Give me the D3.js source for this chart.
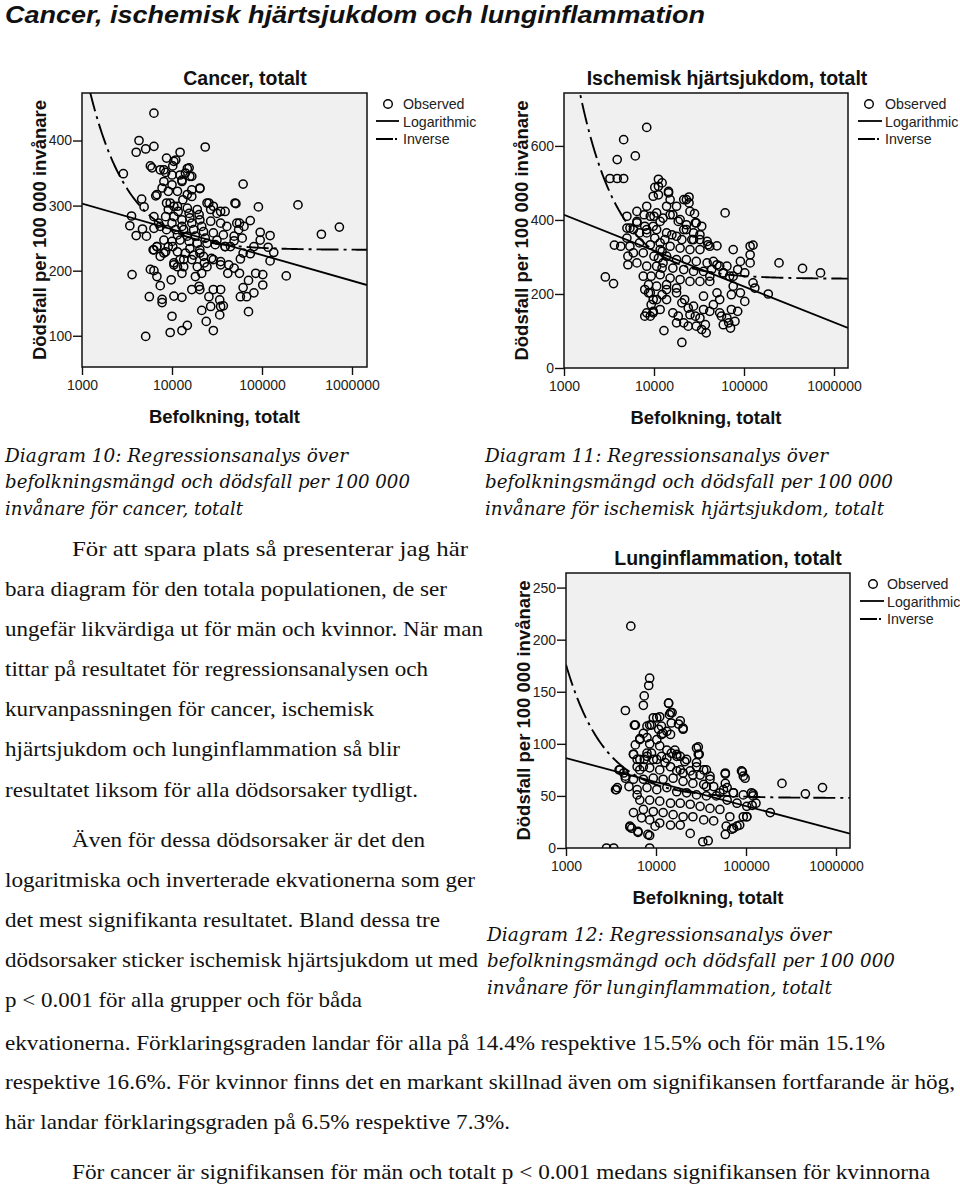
<!DOCTYPE html>
<html><head><meta charset="utf-8">
<script src="https://cdn.jsdelivr.net/npm/d3@7"></script>
<style>body{margin:0;background:#fff}svg{display:block}</style>
</head><body>
<svg id="c" width="960" height="1187"></svg>
<script>
// ---------- DATA ----------
const xTickValues=[1000,10000,100000,1000000];
const legendLabels=["Observed","Logarithmic","Inverse"];
const chartTitles=["Cancer, totalt","Ischemisk hjärtsjukdom, totalt","Lunginflammation, totalt"];
const xAxisTitle="Befolkning, totalt";
const yAxisTitle="Dödsfall per 100 000 invånare";
const cancerYTicks=[100,200,300,400];
const ischYTicks=[0,200,400,600];
const lungYTicks=[0,50,100,150,200,250];
// fits: log: y=a+b*log10(x); inverse: y=a+b/x
const cancerLogFit=[421.5,-39.5], cancerInvFit=[232,298000];
const ischLogFit=[704.7,-96.9], ischInvFit=[241,754500];
const lungLogFit=[155.3,-23.0], lungInvFit=[48,128000];

const cancerPoints=[[6300,442],[4300,400],[4000,382],[5100,387],[6300,391],[23400,390],[12300,382],[2880,349],[6000,358],[8700,373],[10500,368],[10200,361],[7400,355],[8500,351],[15500,358],[16600,345],[14100,350],[12900,339],[20400,326],[16600,314],[61700,333],[6600,315],[4600,310],[4900,298],[3550,284],[3400,269],[4000,254],[4700,264],[5200,253],[3600,194],[6300,283],[6300,265],[7100,273],[8700,304],[10500,299],[13200,309],[25700,304],[28800,299],[34700,291],[50100,304],[51300,303],[91200,298],[251000,301],[457000,256],[724000,267],[74100,277],[56200,273],[55000,263],[95500,259],[123000,254],[95500,247],[117000,236],[135000,228],[123000,215],[81300,237],[74100,226],[57500,218],[61700,227],[49000,246],[44700,237],[186000,192],[102000,194],[85100,196],[102000,178],[70800,185],[61700,174],[57500,160],[67600,160],[81300,166],[70800,137],[56200,196],[49000,204],[41700,196],[34700,171],[33900,155],[34700,145],[37200,146],[33900,132],[28800,171],[26900,145],[28800,108],[24000,122],[21400,139],[20400,171],[25700,160],[21400,196],[18200,191],[20000,176],[16600,171],[14800,116],[12900,108],[9550,105],[10000,130],[12900,159],[10500,161],[7760,151],[7760,156],[7400,177],[5600,160],[5100,99],[9800,186],[6300,200],[6800,191],[5750,202],[6170,232],[6800,237],[8130,227],[10500,209],[11500,206],[10200,237],[12900,196],[13500,217],[16600,217],[20400,227],[22900,212],[28800,217],[34700,209],[38900,237],[31600,247],
[9550,304],[11500,299],[14800,296],[19100,294],[24500,304],[26900,294],[31600,288],[38900,291],[8500,283],[10500,283],[12900,278],[15800,281],[20400,278],[26900,276],[34700,273],[40700,268],[52500,273],[63100,268],[7400,268],[8700,263],[11000,263],[13500,263],[17400,263],[22400,260],[28800,258],[37200,255],[49000,253],[60300,250],[8130,247],[10000,245],[12300,247],[15500,245],[19100,242],[24500,242],[30200,240],[38900,237],[6800,237],[8500,229],[11500,229],[14100,227],[17400,224],[22400,222],[27500,219],[34700,214],[42700,209],[12300,217],[10500,212],[13500,206],[19100,206],[24500,206],[7400,222],[6300,232],[9100,294],[11700,291],[15500,288],[20000,286],[10000,273],[12900,268],[16600,273],[21400,268],[11500,255],[14800,253],[18200,253],[23400,250],[9100,237],[15800,234],[20400,232],
[8130,355],[10000,347],[12300,347],[15800,345],[8130,337],[10000,332],[12900,337],[16600,324],[20400,327],[9100,322],[11500,322],[14800,317],[6800,317],[5750,361],[7760,327],[14800,357],[11000,370]];

const ischPoints=[[8300,650],[4600,617],[6200,573],[3900,563],[3240,512],[3900,512],[4600,512],[61700,419],[2880,246],[3550,228],[3630,332],[4270,329],[245000,284],[447000,269],[708000,257],[186000,200],[20400,69],[12900,101],[5000,410],[5000,378],[5130,302],[5130,279],
[11200,510],[12300,500],[10200,488],[9800,464],[11200,468],[14500,477],[15100,455],[21400,455],[24500,462],[24500,446],[28200,417],[13800,437],[17800,437],[8300,437],[6460,423],[7760,414],[9100,410],[10700,419],[12600,405],[16200,414],[19500,401],[28800,392],[33900,383],[32400,360],[38900,342],[39800,333],[50100,330],[22900,374],[26300,347],[20400,347],[15800,360],[6460,392],[5900,374],[6900,365],[8300,374],[9800,383],[75900,320],[91200,288],[85100,266],[117000,329],[126000,332],[117000,306],[117000,284],[126000,230],[132000,216],[102000,257],[69200,248],[53700,275],[45700,288],[41700,248],[50100,203],[53700,185],[58900,257],[75900,221],[91200,203],[102000,180],[72400,198],[85100,153],[72400,158],[64600,135],[58900,117],[67600,122],[79400,126],[70800,108],[56200,140],[53700,149],[45700,171],[41700,153],[35500,194],[35500,158],[32400,135],[37200,117],[33900,104],[38000,95],[29500,113],[28800,140],[27500,167],[24000,162],[25100,144],[21900,185],[20400,176],[17800,203],[18600,140],[17800,122],[21400,122],[24000,113],[16200,149],[13800,185],[12300,198],[13800,212],[11700,158],[9800,149],[9300,171],[9800,185],[8700,203],[7900,212],[7900,140],[9100,140],
[8300,365],[10700,374],[13800,365],[17800,356],[21400,374],[27500,365],[32400,347],[6900,338],[9100,333],[11700,338],[15100,329],[19500,324],[25100,320],[32400,320],[41700,329],[5900,311],[7600,311],[10000,302],[12300,315],[13800,302],[17800,293],[22900,293],[29500,288],[38900,284],[50100,279],[64600,275],[6460,284],[8300,275],[10700,275],[12600,284],[16200,270],[21400,266],[27500,261],[35500,261],[43700,266],[58900,257],[75900,248],[7600,248],[9300,248],[11700,252],[15100,243],[19500,239],[25100,234],[32400,234],[41700,234],[8700,225],[10700,221],[13800,225],[17800,216],[9100,203],[10700,185],[8300,149],[9800,153],[11700,320],[11200,297],[12300,270],[13200,347],[10200,351],[7900,383],[6460,396],[5400,378],[5000,351],[5400,329],[10000,410],[11700,396],[15100,414],[18600,396],[22900,387],[25100,423],[22900,455],[14500,473],[11200,491],[29500,392],[27500,347]];

const lungPoints=[[5250,213],[8500,163],[8300,156],[7400,146],[7240,137],[4570,132],[13800,139],[15100,130],[14100,128],[5900,118],[17800,119],[20000,114],[29500,97],[30200,90],[58900,71],[91200,73],[97700,67],[251000,62],[457000,52],[708000,58],[186000,34],[120000,52],[129000,43],[117000,41],[3550,56],[3630,56],[3890,75],[4370,72],[4570,67],[5010,59],[2820,0],[3390,0],[8500,0],[8500,12],[6310,15],[5130,20],[5370,19],[33100,6],[38000,7],[58900,13],[69200,18],[79400,21],[93300,30],[102000,30],
[5620,90],[5890,99],[6610,105],[7240,110],[7940,117],[8910,118],[10200,125],[11000,126],[11500,117],[12000,110],[13200,112],[10200,104],[8510,100],[7940,91],[6610,85],[6170,78],[7410,85],[8910,91],[11000,98],[9330,85],[11500,88],[14800,91],[18600,88],[20900,83],[16200,94],[12600,82],[28200,78],[33900,75],[25700,70],[20000,72],[17000,74],[39800,66],[36300,59],[51300,53],[72400,53],[61700,58],
[6170,85],[7940,88],[10200,85],[13200,86],[17000,88],[21900,85],[28200,82],[36300,75],[6610,75],[8510,77],[11000,75],[14500,78],[18600,75],[24000,74],[30900,70],[39800,69],[5620,66],[7240,66],[9330,67],[12000,66],[15500,67],[20000,64],[25700,62],[33900,61],[43700,59],[56200,56],[72400,53],[93300,51],[6170,56],[7940,58],[10200,56],[13200,58],[17000,54],[21900,53],[28200,51],[36300,50],[46800,50],[61700,46],[79400,43],[102000,40],[6610,46],[8510,46],[11000,45],[14500,43],[18600,43],[24000,42],[30900,40],[39800,38],[51300,37],[66100,30],[7240,37],[9330,35],[12000,34],[15500,32],[20000,30],[25700,30],[33900,27],[43700,26],[8510,27],[11000,24],[14500,22],[18600,22],[24000,14],[5130,21],[6310,16],[8130,13],[9770,21],[60300,21],[72400,19],[85100,22],[102000,30],[115000,53],[120000,50],[28200,96],[29500,90],[89100,74],[93300,69],[58900,72],[58900,62],[17000,90],[13200,94],[10700,114],[8510,118],[5750,118],[6610,104],[5620,90],[7240,78],[3980,75],[4570,69],[3720,58],[6170,51],[5620,34],[6920,29],[13800,139],[14500,130],[18600,122],[20000,115],[9330,125],[11500,109],[14500,109],[7940,106],[14800,120]];

const captions=[
 ["Diagram 10: Regressionsanalys över","befolkningsmängd och dödsfall per 100 000","invånare för cancer, totalt"],
 ["Diagram 11: Regressionsanalys över","befolkningsmängd och dödsfall per 100 000","invånare för ischemisk hjärtsjukdom, totalt"],
 ["Diagram 12: Regressionsanalys över","befolkningsmängd och dödsfall per 100 000","invånare för lunginflammation, totalt"]];
const bodyLines=[
 "För att spara plats så presenterar jag här",
 "bara diagram för den totala populationen, de ser",
 "ungefär likvärdiga ut för män och kvinnor. När man",
 "tittar på resultatet för regressionsanalysen och",
 "kurvanpassningen för cancer, ischemisk",
 "hjärtsjukdom och lunginflammation så blir",
 "resultatet liksom för alla dödsorsaker tydligt.",
 "Även för dessa dödsorsaker är det den",
 "logaritmiska och inverterade ekvationerna som ger",
 "det mest signifikanta resultatet. Bland dessa tre",
 "dödsorsaker sticker ischemisk hjärtsjukdom ut med",
 "p < 0.001 för alla grupper och för båda",
 "ekvationerna. Förklaringsgraden landar för alla på 14.4% respektive 15.5% och för män 15.1%",
 "respektive 16.6%. För kvinnor finns det en markant skillnad även om signifikansen fortfarande är hög,",
 "här landar förklaringsgraden på 6.5% respektive 7.3%.",
 "För cancer är signifikansen för män och totalt p < 0.001 medans signifikansen för kvinnorna"];
const pageTitle="Cancer, ischemisk hjärtsjukdom och lunginflammation";

// ---------- DRAWING ----------
const svg=d3.select("#c");
const SANS="'Liberation Sans', Arial, Helvetica, sans-serif";
const SERIF="'Liberation Serif', 'Times New Roman', serif";
const CAPF="'DejaVu Serif', serif";
const INV_DASH="22,5,3,5";

svg.append("text").attr("x",5).attr("y",23).attr("font-family",SANS).attr("font-weight","bold")
 .attr("font-style","italic").attr("font-size",24).attr("textLength",700).attr("lengthAdjust","spacingAndGlyphs")
 .attr("fill","#111").text(pageTitle);

function drawChart(o){
  const g=svg.append("g");
  const x=d3.scaleLog().domain([1000,Math.pow(10,3+(o.right-o.left)/o.decade)]).range([o.left,o.right]);
  const y=d3.scaleLinear().domain(o.yDomain).range([o.bottom,o.top]);
  const cid="clip"+o.id;
  svg.append("clipPath").attr("id",cid).append("rect").attr("x",o.left).attr("y",o.top)
    .attr("width",o.right-o.left).attr("height",o.bottom-o.top);
  g.append("rect").attr("x",o.left).attr("y",o.top).attr("width",o.right-o.left).attr("height",o.bottom-o.top).attr("fill","#f0f0f0");
  const inner=g.append("g").attr("clip-path",`url(#${cid})`);
  inner.selectAll("circle").data(o.points).join("circle")
    .attr("cx",d=>x(d[0])).attr("cy",d=>y(d[1])).attr("r",4.1)
    .attr("fill","none").attr("stroke","#000").attr("stroke-width",1.5);
  const [x0,x1]=x.domain();
  const lx0=Math.log10(x0), lx1=Math.log10(x1);
  const logLine=[x0,x1].map(v=>[v,o.logFit[0]+o.logFit[1]*Math.log10(v)]);
  const line=d3.line().x(d=>x(d[0])).y(d=>y(d[1]));
  inner.append("path").attr("d",line(logLine)).attr("fill","none").attr("stroke","#000").attr("stroke-width",1.8);
  const invX=d3.range(0,401).map(i=>Math.pow(10,lx0+(lx1-lx0)*i/400));
  const invLine=invX.map(v=>[v,o.invFit[0]+o.invFit[1]/v]).filter(d=>d[1]<o.yDomain[1]*1.5);
  inner.append("path").attr("d",line(invLine)).attr("fill","none").attr("stroke","#000").attr("stroke-width",1.9)
    .attr("stroke-dasharray",INV_DASH);
  g.append("rect").attr("x",o.left).attr("y",o.top).attr("width",o.right-o.left).attr("height",o.bottom-o.top)
    .attr("fill","none").attr("stroke","#111").attr("stroke-width",1.5);
  const xa=g.append("g").attr("transform",`translate(0,${o.bottom})`)
    .call(d3.axisBottom(x).tickValues(xTickValues).tickFormat(d3.format("d")).tickSize(8).tickSizeOuter(0).tickPadding(5));
  const ya=g.append("g").attr("transform",`translate(${o.left},0)`)
    .call(d3.axisLeft(y).tickValues(o.yTicks).tickFormat(d3.format("d")).tickSize(9).tickSizeOuter(0).tickPadding(1));
  [xa,ya].forEach(a=>{a.select(".domain").remove();
    a.selectAll("line").attr("stroke","#111").attr("stroke-width",1.4);
    a.selectAll("text").attr("font-family",SANS).attr("font-size",14).attr("fill","#222");});
  g.append("text").attr("x",o.titleX).attr("y",o.top-8).attr("text-anchor","middle").attr("font-family",SANS)
    .attr("font-weight","bold").attr("font-size",19.5).attr("fill","#111").text(o.title);
  g.append("text").attr("x",(o.left+o.right)/2).attr("y",o.bottom+56).attr("text-anchor","middle").attr("font-family",SANS)
    .attr("font-weight","bold").attr("font-size",18.5).attr("fill","#111").text(xAxisTitle);
  g.append("text").attr("transform",`translate(${o.yTitleX},${(o.top+o.bottom)/2}) rotate(-90)`).attr("text-anchor","middle")
    .attr("dominant-baseline","central").attr("font-family",SANS).attr("font-weight","bold").attr("font-size",18.5)
    .attr("fill","#111").text(yAxisTitle);
  // legend
  const L=o.legend;
  g.append("circle").attr("cx",L.cx).attr("cy",L.y).attr("r",4.3).attr("fill","none").attr("stroke","#000").attr("stroke-width",1.4);
  g.append("line").attr("x1",L.lx0).attr("x2",L.lx1).attr("y1",L.y+17).attr("y2",L.y+17).attr("stroke","#000").attr("stroke-width",1.8);
  g.append("line").attr("x1",L.lx0).attr("x2",L.lx1).attr("y1",L.y+35).attr("y2",L.y+35).attr("stroke","#000").attr("stroke-width",2)
    .attr("stroke-dasharray","17,2,2,3");
  legendLabels.forEach((t,i)=>g.append("text").attr("x",L.tx).attr("y",L.y+i*17.5).attr("dominant-baseline","central")
    .attr("font-family",SANS).attr("font-size",14.2).attr("fill","#222").text(t));
}

drawChart({id:1,title:chartTitles[0],titleX:245,left:82,right:367,top:93,bottom:367,decade:90,yDomain:[52,473],yTicks:cancerYTicks,
  points:cancerPoints,logFit:cancerLogFit,invFit:cancerInvFit,yTitleX:39,legend:{cx:388,y:104,lx0:376,lx1:399,tx:403}});
drawChart({id:2,title:chartTitles[1],titleX:727,left:564,right:848,top:93,bottom:368,decade:90,yDomain:[0,743],yTicks:ischYTicks,
  points:ischPoints,logFit:ischLogFit,invFit:ischInvFit,yTitleX:521,legend:{cx:869,y:104,lx0:858,lx1:882,tx:885}});
drawChart({id:3,title:chartTitles[2],titleX:728,left:566,right:850,top:573,bottom:848,decade:90,yDomain:[0,264],yTicks:lungYTicks,
  points:lungPoints,logFit:lungLogFit,invFit:lungInvFit,yTitleX:523,legend:{cx:873,y:584,lx0:860,lx1:884,tx:887}});

// captions
const capPos=[{x:5,y:462,w:[343,405,238]},{x:485,y:462,w:[343,408,399]},{x:487,y:941,w:[344,408,345]}];
captions.forEach((c,i)=>c.forEach((t,j)=>svg.append("text").attr("x",capPos[i].x).attr("y",capPos[i].y+j*26.3)
  .attr("font-family",CAPF).attr("font-style","italic").attr("font-size",19).attr("fill","#111")
  .attr("textLength",capPos[i].w[j]).attr("lengthAdjust","spacingAndGlyphs").text(t)));

// body text
const bodyPos=[[72,556,396],[5,596,442],[5,636,478],[5,676,423],[5,716,369],[5,756,395],[5,797,413],[72,847,353],[5,887,470],
 [5,927,435],[5,967,473],[5,1007,357],[5,1050,880],[5,1089,950],[5,1129,505],[72,1179,858]];
bodyLines.forEach((t,i)=>svg.append("text").attr("x",bodyPos[i][0]).attr("y",bodyPos[i][1]).attr("font-family",SERIF)
  .attr("font-size",22).attr("fill","#111").attr("textLength",bodyPos[i][2]).attr("lengthAdjust","spacingAndGlyphs").text(t));
</script>
</body></html>
